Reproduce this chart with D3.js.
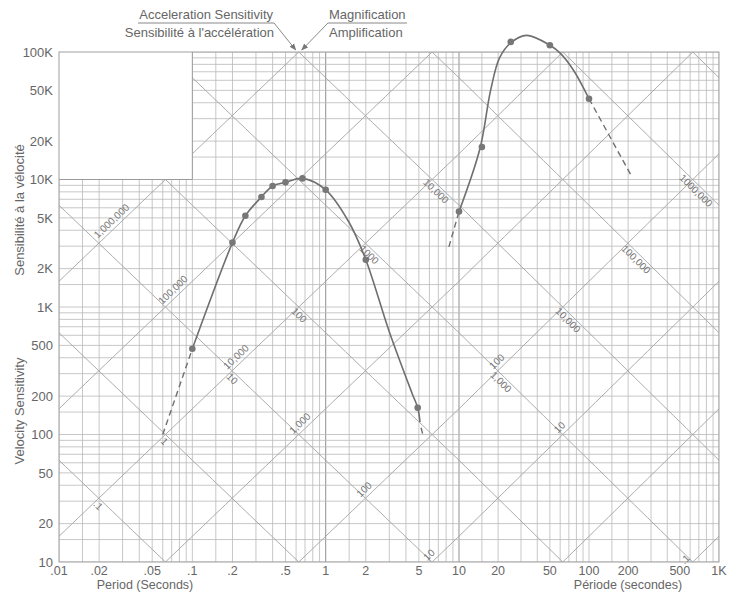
<!DOCTYPE html>
<html>
<head>
<meta charset="utf-8">
<script src="https://cdn.jsdelivr.net/npm/d3@7/dist/d3.min.js"></script>
<style>
  body{margin:0;background:#fff}
  svg text{font-family:"Liberation Sans",Arial,sans-serif;fill:#666}
</style>
</head>
<body>
<div id="vis"></div>
<script>
// ---- data ----
let periodTicks=[0.01,0.02,0.05,0.1,0.2,0.5,1,2,5,10,20,50,100,200,500,1000]
let periodLabels=['.01','.02','.05','.1','.2','.5','1','2','5','10','20','50','100','200','500','1K']
let velTicks=[10,20,50,100,200,500,1000,2000,5000,10000,20000,50000,100000]
let velLabels=['10','20','50','100','200','500','1K','2K','5K','10K','20K','50K','100K']
let gridMult=[1,1.5,2,3,4,5,6,7,8,9]

// short period response (dots + curve)
let shortDotT=[0.1,0.2,0.25,0.33,0.4,0.5,0.67,1,2,4.9]
let shortDotV=[470,3200,5200,7300,8900,9500,10200,8300,2350,162]
let shortCurveT=[0.1,0.2,0.25,0.33,0.4,0.5,0.67,1,1.5,2,3,4.45,4.9,5.1]
let shortCurveV=[470,3200,5200,7300,8900,9500,10200,8300,4600,2350,640,210,162,125]
let shortDashT=[0.06,0.1]
let shortDashV=[100,470]
let shortTailT=[5.2,5.35]
let shortTailV=[113,100]

// long period response
let longDotT=[10,15,25,50,100]
let longDotV=[5600,18000,120000,113000,43000]
let longCurveT=[10,14.5,17.5,20.5,25,33,50,60,76,100]
let longCurveV=[5600,17500,50000,90000,118000,135000,113000,98000,72000,43000]
let longDashLoT=[8.4,10]
let longDashLoV=[2960,5600]
let longDashHiT=[100,214]
let longDashHiV=[43000,10500]

// diagonal labels: M = magnification (rising), A = acceleration sensitivity (falling)
let diagText=['1,000,000','100,000','10,000','10','100','1000','10,000','1,000','100','10','100','1,000','10','.1','10,000','100,000','1000,000','1','.1']
let diagKind=['M','M','M','A','A','A','A','M','M','M','M','A','M','M','A','A','A','A','A']
let diagValue=[1e6,1e5,1e4,10,100,1000,1e4,1000,100,10,100,1000,10,0.1,1e4,1e5,1e6,1,0.1]
let diagAt=[0.027,0.078,0.232,0.213,0.676,2.27,7.2,0.7,2.12,6.5,21.4,22.6,65,600,74,247,714,0.066,0.021]

let width=738, height=592
let svg=d3.select('#vis').append('svg')
  .attr('width',width).attr('height',height)

let xScale=d3.scaleLog().domain([0.01,10,1000]).range([59,459,719])
let yScale=d3.scaleLog().domain([10,100000]).range([562,52])

let x0=xScale(0.01), x1=xScale(1000), yTop=yScale(100000), yBot=yScale(10)

svg.append('clipPath').attr('id','plotClip')
  .append('rect').attr('x',x0).attr('y',yTop).attr('width',x1-x0).attr('height',yBot-yTop)

let grid=svg.append('g').attr('clip-path','url(#plotClip)')

// rectangular log grid
let xGrid=[]
for(let e=-2;e<3;e++) gridMult.forEach(m=>xGrid.push(m*Math.pow(10,e)))
xGrid.push(1000)
let yGrid=[]
for(let e=1;e<5;e++) gridMult.forEach(m=>yGrid.push(m*Math.pow(10,e)))
yGrid.push(100000)

grid.selectAll('.vgrid').data(xGrid).join('line')
  .attr('x1',d=>xScale(d)).attr('x2',d=>xScale(d))
  .attr('y1',yTop).attr('y2',yBot)
  .attr('stroke',d=>[1,10].includes(d)?'#9a9a9a':'#b9b9b9')
  .attr('stroke-width',d=>[1,10].includes(d)?1.1:0.8)

grid.selectAll('.hgrid').data(yGrid).join('line')
  .attr('x1',x0).attr('x2',x1)
  .attr('y1',d=>yScale(d)).attr('y2',d=>yScale(d))
  .attr('stroke','#b9b9b9').attr('stroke-width',0.8)

// diagonals
let twoPi=2*Math.PI
let samples=d3.range(0,101).map(i=>Math.pow(10,-2+i*0.05))
let line=d3.line().x(d=>xScale(d[0])).y(d=>yScale(d[1]))
let diagExp=d3.range(-6,9)
let magV=(M,t)=>M*t/twoPi
let accV=(A,t)=>twoPi*A/t
diagExp.forEach(k=>{
  let v=Math.pow(10,k)
  grid.append('path').attr('d',line(samples.map(t=>[t,magV(v,t)])))
    .attr('fill','none').attr('stroke','#a3a3a3').attr('stroke-width',0.9)
  grid.append('path').attr('d',line(samples.map(t=>[t,accV(v,t)])))
    .attr('fill','none').attr('stroke','#a3a3a3').attr('stroke-width',0.9)
})

// blank upper-left block
svg.append('rect')
  .attr('x',x0).attr('y',yTop)
  .attr('width',xScale(0.1)-x0).attr('height',yScale(10000)-yTop)
  .attr('fill','#fff')
svg.append('path')
  .attr('d',`M${x0},${yScale(10000)}H${xScale(0.1)}V${yTop}`)
  .attr('fill','none').attr('stroke','#9a9a9a').attr('stroke-width',1)

// frame
svg.append('rect').attr('x',x0).attr('y',yTop)
  .attr('width',x1-x0).attr('height',yBot-yTop)
  .attr('fill','none').attr('stroke','#a0a0a0').attr('stroke-width',1)

// diagonal labels
diagText.forEach((txt,i)=>{
  let f=diagKind[i]==='M'?magV:accV
  let t=diagAt[i], v=diagValue[i]
  let px=xScale(t), py=yScale(f(v,t))
  let qx=xScale(t*1.05), qy=yScale(f(v,t*1.05))
  let dx=qx-px, dy=qy-py, len=Math.hypot(dx,dy)
  let ang=Math.atan2(dy,dx)*180/Math.PI
  let nx,ny
  if(diagKind[i]==='M'){nx=dy/len;ny=-dx/len}else{nx=-dy/len;ny=dx/len}
  let off=6.5
  svg.append('text')
    .attr('transform',`translate(${px+nx*off},${py+ny*off}) rotate(${ang})`)
    .attr('text-anchor','middle').attr('dominant-baseline','middle')
    .style('font-size','10px').style('fill','#777')
    .text(txt)
})

// axes text
svg.selectAll('.ylab').data(velTicks).join('text')
  .attr('x',53).attr('y',d=>yScale(d)).attr('dy','0.36em')
  .attr('text-anchor','end').style('font-size','13px')
  .text((d,i)=>velLabels[i])

svg.selectAll('.xlab').data(periodTicks).join('text')
  .attr('x',d=>xScale(d)).attr('y',575)
  .attr('text-anchor','middle').style('font-size','12.5px')
  .text((d,i)=>periodLabels[i])

svg.append('text').attr('x',145).attr('y',589).attr('text-anchor','middle')
  .style('font-size','12.5px').text('Period (Seconds)')
svg.append('text').attr('x',628).attr('y',589).attr('text-anchor','middle')
  .style('font-size','12.5px').text('Période (secondes)')

svg.append('text').attr('transform','translate(24,411) rotate(-90)')
  .attr('text-anchor','middle').style('font-size','13px').text('Velocity Sensitivity')
svg.append('text').attr('transform','translate(24,210) rotate(-90)')
  .attr('text-anchor','middle').style('font-size','13px').text('Sensibilité à la vélocité')

// top titles with arrows
let tipX=xScale(twoPi/10), tipY=yTop-2
svg.append('text').attr('x',273).attr('y',19).attr('text-anchor','end')
  .style('font-size','13px').text('Acceleration Sensitivity')
svg.append('text').attr('x',274).attr('y',37).attr('text-anchor','end')
  .style('font-size','13px').text("Sensibilité à l'accélération")
svg.append('text').attr('x',329).attr('y',19).attr('text-anchor','start')
  .style('font-size','13px').text('Magnification')
svg.append('text').attr('x',329).attr('y',37).attr('text-anchor','start')
  .style('font-size','13px').text('Amplification')

svg.append('defs').append('marker').attr('id','arr')
  .attr('viewBox','0 0 10 10').attr('refX',9).attr('refY',5)
  .attr('markerWidth',7).attr('markerHeight',7).attr('orient','auto')
  .append('path').attr('d','M0,1L10,5L0,9Z').attr('fill','#777')

svg.append('path').attr('d',`M138,23H274L${tipX-3},${tipY}`)
  .attr('fill','none').attr('stroke','#888').attr('stroke-width',1)
  .attr('marker-end','url(#arr)')
svg.append('path').attr('d',`M407,23H328L${tipX+3},${tipY}`)
  .attr('fill','none').attr('stroke','#888').attr('stroke-width',1)
  .attr('marker-end','url(#arr)')

// response curves
let curveLine=d3.line().x(d=>xScale(d[0])).y(d=>yScale(d[1])).curve(d3.curveCatmullRom.alpha(0.5))
let straight=d3.line().x(d=>xScale(d[0])).y(d=>yScale(d[1]))
let zip=(a,b)=>a.map((d,i)=>[d,b[i]])
let curveColor='#6f6f6f'

svg.append('path').attr('d',curveLine(zip(shortCurveT,shortCurveV)))
  .attr('fill','none').attr('stroke',curveColor).attr('stroke-width',1.6)
svg.append('path').attr('d',curveLine(zip(longCurveT,longCurveV)))
  .attr('fill','none').attr('stroke',curveColor).attr('stroke-width',1.6)

;[[shortDashT,shortDashV],[shortTailT,shortTailV],[longDashLoT,longDashLoV],[longDashHiT,longDashHiV]].forEach(p=>{
  svg.append('path').attr('d',straight(zip(p[0],p[1])))
    .attr('fill','none').attr('stroke',curveColor).attr('stroke-width',1.4)
    .attr('stroke-dasharray','6,4')
})

svg.selectAll('.sdot').data(zip(shortDotT,shortDotV)).join('circle')
  .attr('cx',d=>xScale(d[0])).attr('cy',d=>yScale(d[1])).attr('r',3.3)
  .attr('fill','#777')
svg.selectAll('.ldot').data(zip(longDotT,longDotV)).join('circle')
  .attr('cx',d=>xScale(d[0])).attr('cy',d=>yScale(d[1])).attr('r',3.3)
  .attr('fill','#777')
</script>
</body>
</html>
